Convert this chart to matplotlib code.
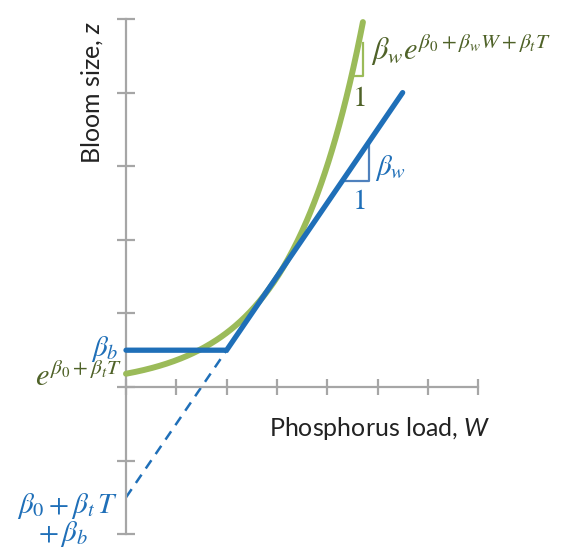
import numpy as np
import matplotlib
matplotlib.use("Agg")
import matplotlib.pyplot as plt

# piecewise-linear (blue) model
blue_W = [0.0, 2.0, 5.5]
blue_z = [0.5, 0.5, 4.0]
# extension of the sloped part back to W = 0
dash_W = [0.0, 2.0]
dash_z = [-1.5, 0.5]
# exponential (green) model: z = exp(b0 + bw*W)
green_intercept = 0.18
green_rate = 0.704
green_W_end = 4.71

# slope triangles
blue_tri_W = [4.35, 4.83, 4.83]
blue_tri_z = [2.80, 2.80, 3.32]
green_tri_W = [4.55, 4.71, 4.71]
green_tri_z = [4.22, 4.22, 4.68]

x_ticks = [0, 1, 2, 3, 4, 5, 6, 7]
y_ticks = [-2, -1, 0, 1, 2, 3, 4, 5]

BLUE = "#1f6fb8"
LBLUE = "#4f81bd"
GREEN = "#9bbb59"
DGREEN = "#4f6228"
GREY = "#a6a6a6"

plt.rcParams["mathtext.fontset"] = "custom"
plt.rcParams["mathtext.it"] = "Lato:italic"
plt.rcParams["mathtext.rm"] = "Lato"

fig = plt.figure(figsize=(5.66, 5.48), dpi=100)
ax = fig.add_axes([0, 0, 1, 1])
ax.set_xlim(-126 / 50.3, (566 - 126) / 50.3)
ax.set_ylim((387 - 548) / 73.6, 387 / 73.6)

for s in ["top", "right"]:
    ax.spines[s].set_visible(False)
ax.spines["left"].set_position(("data", 0))
ax.spines["bottom"].set_position(("data", 0))
ax.spines["left"].set_bounds(-2, 5)
ax.spines["bottom"].set_bounds(0, 7)
for s in ["left", "bottom"]:
    ax.spines[s].set_color(GREY)
    ax.spines[s].set_linewidth(1.6)
ax.set_xticks(x_ticks)
ax.set_yticks(y_ticks)
ax.set_xticklabels([])
ax.set_yticklabels([])
ax.tick_params(axis="both", direction="inout", color=GREY, width=1.6)
ax.tick_params(axis="y", length=12.5)
ax.tick_params(axis="x", length=11.5)

# curves
gw = np.linspace(0, green_W_end, 200)
ax.plot(gw, green_intercept * np.exp(green_rate * gw), color=GREEN, lw=4.3,
        solid_capstyle="round", zorder=3)
ax.plot(blue_W, blue_z, color=BLUE, lw=3.8, solid_capstyle="round",
        solid_joinstyle="miter", zorder=4)
ax.plot(dash_W, dash_z, color=BLUE, lw=1.8, ls=(0, (4, 3)), zorder=2)

ax.plot(blue_tri_W, blue_tri_z, color=LBLUE, lw=1.6, zorder=3)
ax.plot(green_tri_W, green_tri_z, color=GREEN, lw=1.6, zorder=2)

# formula labels
mf = dict(math_fontfamily="stix", fontsize=21)
ax.text(-0.14, 0.52, r"$\beta_b$", color=BLUE, ha="right", va="center", **mf)
ax.text(-0.08, 0.14, r"$e^{\beta_0+\beta_tT}$", color=DGREEN, ha="right",
        va="center", fontsize=22, math_fontfamily="stix")
ax.text(-0.16, -1.62, r"$\beta_0+\beta_t\,T$", color=BLUE, ha="right",
        va="center", **mf)
ax.text(-1.25, -2.0, r"$+\,\beta_b$", color=BLUE, ha="center", va="center", **mf)
ax.text(4.88, 4.58, r"$\beta_w e^{\beta_0+\beta_wW+\beta_tT}$", color=DGREEN,
        ha="left", va="center", fontsize=22, math_fontfamily="stix")
ax.text(4.62, 3.93, r"$1$", color=DGREEN, ha="center", va="center", **mf)
ax.text(4.95, 2.98, r"$\beta_w$", color=BLUE, ha="left", va="center", **mf)
ax.text(4.62, 2.53, r"$1$", color=BLUE, ha="center", va="center", **mf)

# axis labels
ax.text(5.05, -0.56, r"Phosphorus load, $\mathit{W}$", fontsize=18,
        family="Lato", math_fontfamily="custom", color="#222222",
        ha="center", va="center")
ax.text(-0.68, 4.0, r"Bloom size, $\mathit{z}$", fontsize=18,
        family="Lato", math_fontfamily="custom", color="#222222",
        ha="center", va="center", rotation=90)

fig.savefig("out.png", dpi=100)
